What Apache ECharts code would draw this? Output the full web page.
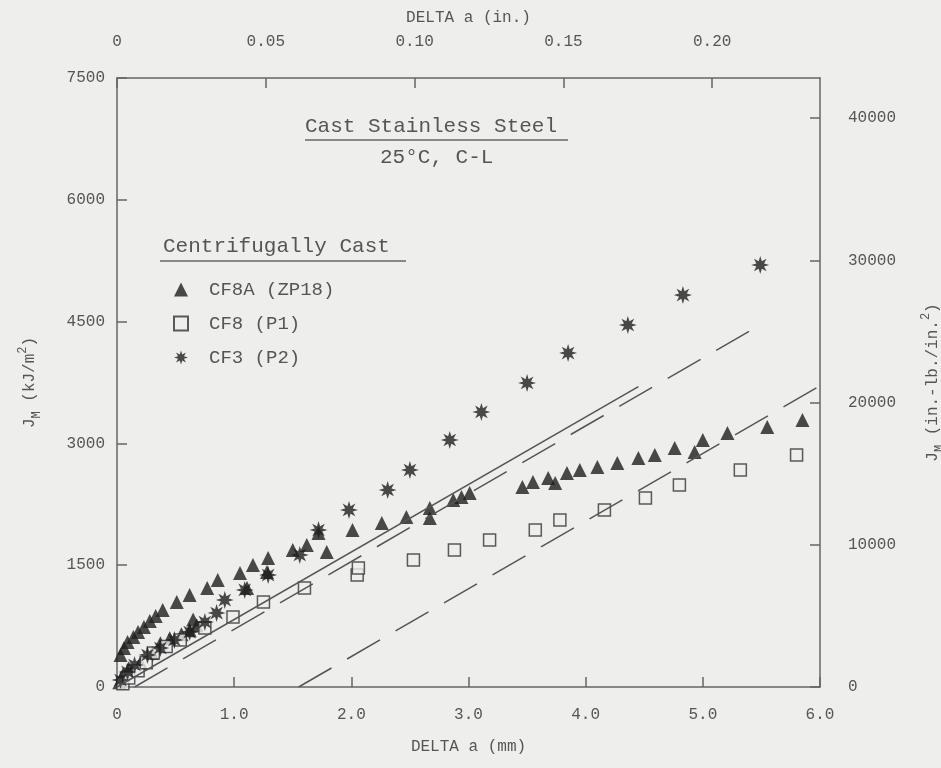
<!DOCTYPE html>
<html lang="en">
<head>
    <meta charset="UTF-8">
    <title>Cast Stainless Steel J-R</title>
    <script type="text/javascript" src="https://cdn.jsdelivr.net/npm/echarts@6/dist/echarts.min.js"></script>
    <style>
        html, body {margin: 0; padding: 0; background: #eeeeec; overflow: hidden;}
        #main {width: 941px; height: 768px;}
    </style>
</head>
<body>
<div id="main"></div>
<script type="text/javascript">
    // data: [delta a (mm), J_M (kJ/m2)]
    var cf8aData = [[0.02,60],[0.03,394],[0.05,150],[0.06,480],[0.09,554],[0.10,230],[0.14,616],[0.18,677],[0.20,300],
        [0.23,739],[0.28,813],[0.30,420],[0.33,874],[0.37,540],[0.39,948],[0.45,600],[0.51,1047],[0.55,650],
        [0.62,1133],[0.62,700],[0.68,760],[0.65,830],[0.77,1219],[0.86,1318],[1.05,1404],[1.11,1219],[1.16,1502],
        [1.28,1416],[1.29,1589],[1.50,1687],[1.62,1749],[1.72,1897],[1.79,1663],[2.01,1933],[2.26,2020],
        [2.47,2094],[2.67,2081],[2.67,2204],[2.87,2303],[2.94,2340],[3.01,2389],[3.46,2463],[3.55,2525],
        [3.68,2574],[3.74,2512],[3.84,2635],[3.95,2672],[4.10,2709],[4.27,2759],[4.45,2820],[4.59,2857],
        [4.76,2943],[4.93,2894],[5.00,3042],[5.21,3128],[5.55,3202],[5.85,3288]];
    var cf8Data = [[0.05,40],[0.10,110],[0.18,200],[0.25,300],[0.31,419],[0.42,500],[0.54,579],[0.75,727],
        [0.99,862],[1.25,1047],[1.60,1219],[2.05,1379],[2.06,1465],[2.53,1564],[2.88,1687],[3.18,1810],
        [3.57,1933],[3.78,2057],[4.16,2180],[4.51,2328],[4.80,2488],[5.32,2672],[5.80,2857]];
    var cf3Data = [[0.03,86],[0.09,185],[0.15,271],[0.26,394],[0.37,480],[0.49,579],[0.62,677],[0.75,800],
        [0.85,911],[0.92,1071],[1.09,1195],[1.29,1379],[1.56,1626],[1.72,1933],[1.98,2180],[2.31,2426],
        [2.50,2672],[2.84,3042],[3.11,3387],[3.50,3744],[3.85,4113],[4.36,4458],[4.83,4827],[5.49,5197]];

    // blunting line and the two offset lines
    var bluntLine = [[0,0],[4.45,3700]];
    var offsetLine1 = [[0.15,0],[5.49,4460]];
    var offsetLine2 = [[1.55,0],[6.0,3710]];

    var mmTicks = {min: 0, max: 6, interval: 1};
    var inTicks = {min: 0, max: 6 / 25.4, interval: 0.05};
    var kjTicks = {min: 0, max: 7500, interval: 1500};
    var inlbTicks = {min: 0, max: 7500 / 0.175127, interval: 10000};

    var FONT = 'Liberation Mono';
    var TXT = '#555555';
    var INK = '#1e1e1e';
    var BG = '#eeeeec';

    // 8 point spiky star for CF3
    function starPath(n, R, r) {
        var pts = [];
        for (var i = 0; i < 2 * n; i++) {
            var a = Math.PI * i / n - Math.PI / 2;
            var rad = i % 2 === 0 ? R : r;
            pts.push((R + rad * Math.cos(a)).toFixed(2) + ',' + (R + rad * Math.sin(a)).toFixed(2));
        }
        return 'path://M' + pts.join('L') + 'Z';
    }
    var STAR = starPath(8, 10, 4.6);

    var axisLine = {show: true, onZero: false, lineStyle: {color: '#666', width: 1.5}};
    var tickIn = {show: true, inside: true, length: 10, lineStyle: {color: '#666', width: 1.5}};
    var labelStyle = {fontFamily: FONT, fontSize: 16, color: TXT};
    var plain = function (v) { return String(Math.round(v)); };
    var jmRich = {
        t: {fontFamily: FONT, fontSize: 16, color: TXT, lineHeight: 26},
        sub: {fontFamily: FONT, fontSize: 12, color: TXT, verticalAlign: 'bottom', lineHeight: 26},
        sup: {fontFamily: FONT, fontSize: 12, color: TXT, verticalAlign: 'top', lineHeight: 26}
    };

    var myChart = echarts.init(document.getElementById('main'), null, {width: 941, height: 768});
    var option = {
        backgroundColor: BG,
        animation: false,
        grid: {left: 117, top: 78, width: 703, height: 609, outerBoundsMode: 'none'},
        xAxis: [{
            type: 'value', position: 'bottom',
            min: mmTicks.min, max: mmTicks.max, interval: mmTicks.interval,
            name: 'DELTA a (mm)', nameLocation: 'middle', nameGap: 52,
            nameTextStyle: {fontFamily: FONT, fontSize: 16, color: TXT},
            axisLine: axisLine, axisTick: tickIn, splitLine: {show: false},
            axisLabel: Object.assign({margin: 20, formatter: function (v) { return v === 0 ? '0' : v.toFixed(1); }}, labelStyle)
        }, {
            type: 'value', position: 'top',
            min: inTicks.min, max: inTicks.max, interval: inTicks.interval,
            name: 'DELTA a (in.)', nameLocation: 'middle', nameGap: 52,
            nameTextStyle: {fontFamily: FONT, fontSize: 16, color: TXT},
            axisLine: axisLine, axisTick: tickIn, splitLine: {show: false},
            axisLabel: Object.assign({margin: 28, showMaxLabel: false,
                formatter: function (v) { return v === 0 ? '0' : v.toFixed(2); }}, labelStyle)
        }],
        yAxis: [{
            type: 'value', position: 'left',
            min: kjTicks.min, max: kjTicks.max, interval: kjTicks.interval,
            name: '{t|J}{sub|M}{t| (kJ/m}{sup|2}{t|)}', nameLocation: 'middle', nameGap: 74, nameRotate: 90,
            nameTextStyle: {rich: jmRich},
            axisLine: axisLine, axisTick: tickIn, splitLine: {show: false},
            axisLabel: Object.assign({margin: 12, formatter: plain}, labelStyle)
        }, {
            type: 'value', position: 'right',
            min: inlbTicks.min, max: inlbTicks.max, interval: inlbTicks.interval,
            name: '{t|J}{sub|M}{t| (in.-lb./in.}{sup|2}{t|)}', nameLocation: 'middle', nameGap: 100, nameRotate: 90,
            nameTextStyle: {rich: jmRich},
            axisLine: axisLine, axisTick: tickIn, splitLine: {show: false},
            axisLabel: Object.assign({margin: 28, showMaxLabel: false, formatter: plain}, labelStyle)
        }],
        legend: {
            data: ['CF8A (ZP18)', 'CF8 (P1)', 'CF3 (P2)'],
            orient: 'vertical', left: 168, top: 275, itemGap: 15,
            itemWidth: 14, itemHeight: 14,
            textStyle: {fontFamily: FONT, fontSize: 19, color: TXT, padding: [0, 0, 0, 16]}
        },
        graphic: [
            {type: 'text', left: 305, top: 116, style: {text: 'Cast Stainless Steel', font: '21px "Liberation Mono"', fill: TXT}},
            {type: 'line', shape: {x1: 305, y1: 140, x2: 568, y2: 140}, style: {stroke: '#666', lineWidth: 1.5}},
            {type: 'text', left: 380, top: 147, style: {text: '25°C, C-L', font: '21px "Liberation Mono"', fill: TXT}},
            {type: 'text', left: 163, top: 236, style: {text: 'Centrifugally Cast', font: '21px "Liberation Mono"', fill: TXT}},
            {type: 'line', shape: {x1: 160, y1: 261, x2: 406, y2: 261}, style: {stroke: '#666', lineWidth: 1.5}}
        ],
        series: [{
            name: 'CF8A (ZP18)', type: 'scatter', data: cf8aData,
            symbol: 'triangle', symbolSize: 14,
            itemStyle: {color: INK}
        }, {
            name: 'CF8 (P1)', type: 'scatter', data: cf8Data,
            symbol: 'rect', symbolSize: 12,
            itemStyle: {color: BG, borderColor: '#333', borderWidth: 1.5}
        }, {
            name: 'CF3 (P2)', type: 'scatter', data: cf3Data,
            symbol: STAR, symbolSize: 18,
            itemStyle: {color: INK}
        }, {
            type: 'line', data: bluntLine, symbol: 'none', silent: true,
            lineStyle: {color: '#555', width: 1.5, type: 'solid'}
        }, {
            type: 'line', data: offsetLine1, symbol: 'none', silent: true,
            lineStyle: {color: '#555', width: 1.5, type: [38, 18]}
        }, {
            type: 'line', data: offsetLine2, symbol: 'none', silent: true,
            lineStyle: {color: '#555', width: 1.5, type: [38, 18]}
        }]
    };
    myChart.setOption(option);
</script>
</body>
</html>
